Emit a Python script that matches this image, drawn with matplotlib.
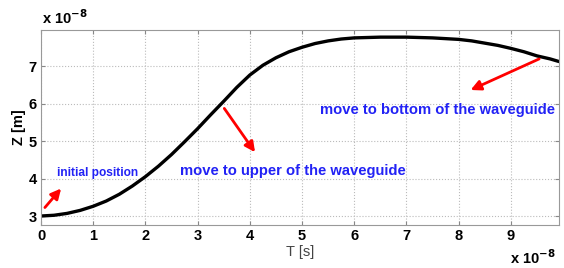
import matplotlib.pyplot as plt

plt.rcParams['font.family'] = ['Liberation Sans', 'DejaVu Sans']

# time (x 1e-8 s) and height (x 1e-8 m)
T = [0, 0.25, 0.5, 0.75, 1, 1.25, 1.5, 1.75, 2, 2.25, 2.5, 2.75, 3, 3.25, 3.5, 3.75,
     4, 4.25, 4.5, 4.75, 5, 5.25, 5.5, 5.75, 6, 6.25, 6.5, 7, 7.5, 8, 8.25, 8.5, 8.75,
     9, 9.25, 9.5, 9.75, 9.92]
Z = [3.0, 3.02, 3.07, 3.15, 3.26, 3.4, 3.58, 3.8, 4.05, 4.33, 4.64, 4.98, 5.33, 5.7,
     6.06, 6.43, 6.76, 7.02, 7.22, 7.38, 7.5, 7.6, 7.67, 7.72, 7.75, 7.76, 7.77, 7.77,
     7.75, 7.71, 7.67, 7.61, 7.55, 7.47, 7.38, 7.27, 7.19, 7.12]

xticks = [0, 1, 2, 3, 4, 5, 6, 7, 8, 9]
yticks = [3, 4, 5, 6, 7]

# annotations: (text, x, y, fontsize)
notes = [
    ("initial position", 0.31, 4.16, 8.6),
    ("move to upper of the waveguide", 2.66, 4.19, 10.6),
    ("move to bottom of the waveguide", 5.34, 5.84, 10.6),
]
# arrows: (tail x, tail y, head x, head y)
arrows = [
    (0.04, 3.17, 0.42, 3.79),
    (3.48, 5.93, 4.13, 4.64),
    (9.59, 7.22, 8.18, 6.33),
]

fig = plt.figure(figsize=(5.64, 2.68), dpi=100)
ax = fig.add_axes([0.0727, 0.1604, 0.9183, 0.7276])

ax.plot(T, Z, color='black', linewidth=2.4, solid_capstyle='round', solid_joinstyle='round')

ax.set_xlim(0, 9.92)
ax.set_ylim(2.76, 7.96)
ax.set_xticks(xticks)
ax.set_yticks(yticks)
ax.tick_params(direction='in', top=True, right=True, length=3, color='#888888',
               labelsize=10.5, pad=3)
for lab in ax.get_xticklabels() + ax.get_yticklabels():
    lab.set_fontweight('bold')
for s in ax.spines.values():
    s.set_color('#999999')
ax.grid(True, linestyle=':', color='#bbbbbb', linewidth=0.8)

ax.set_xlabel('T [s]', fontsize=10.5, color='#444444', labelpad=1)
ax.set_ylabel('Z [m]', fontsize=10.5, fontweight='bold', labelpad=2)

for txt, x, y, fs in notes:
    ax.text(x, y, txt, color='#2222f5', fontsize=fs, fontweight='bold', va='center', ha='left')

for x0, y0, x1, y1 in arrows:
    ax.annotate('', xy=(x1, y1), xytext=(x0, y0),
                arrowprops=dict(arrowstyle='-|>,head_length=0.6,head_width=0.3',
                                color='red', lw=2))

fig.text(0.075, 0.935, r'x 10$^{\mathbf{-8}}$', fontsize=10.5, fontweight='bold', ha='left', va='center')
fig.text(0.985, 0.04, r'x 10$^{\mathbf{-8}}$', fontsize=10.5, fontweight='bold', ha='right', va='center')

fig.savefig('out.png', dpi=100)
